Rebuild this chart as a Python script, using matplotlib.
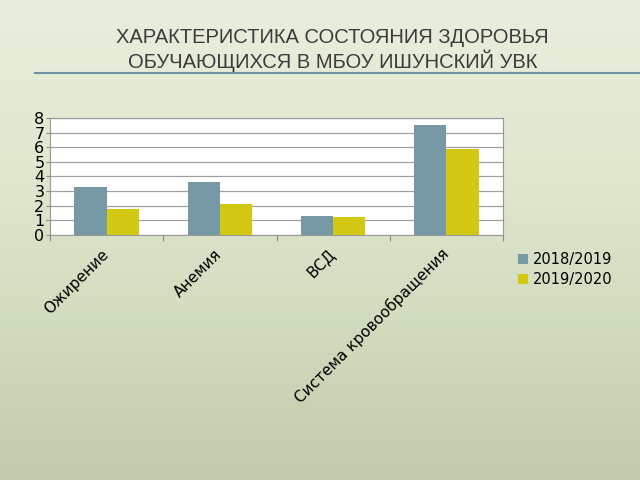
import numpy as np
import matplotlib
matplotlib.use('Agg')
import matplotlib.pyplot as plt
from matplotlib.lines import Line2D

# --- Data ---
categories = ["Ожирение", "Анемия", "ВСД", "Система кровообращения"]
series_names = ["2018/2019", "2019/2020"]
values_2018 = [3.3, 3.6, 1.3, 7.5]
values_2019 = [1.8, 2.1, 1.2, 5.9]
y_ticks = [0, 1, 2, 3, 4, 5, 6, 7, 8]

COLORS = ["#7799a6", "#d3c813"]
TITLE = "ХАРАКТЕРИСТИКА СОСТОЯНИЯ ЗДОРОВЬЯ\nОБУЧАЮЩИХСЯ В МБОУ ИШУНСКИЙ УВК"

plt.rcParams['font.family'] = ['DejaVu Sans']

fig = plt.figure(figsize=(6.4, 4.8), dpi=100)

# slide background: soft green gradient, light at the top
bg = fig.add_axes([0, 0, 1, 1], zorder=0)
grad = np.linspace(0, 1, 256).reshape(-1, 1)
cmap = matplotlib.colors.LinearSegmentedColormap.from_list(
    'slide', ['#e8eedc', '#e0e8d0', '#d2dcbe', '#c2cbab'])
bg.imshow(grad, aspect='auto', cmap=cmap, extent=[0, 1, 0, 1], origin='upper')
bg.set_xlim(0, 1)
bg.set_ylim(0, 1)
bg.axis('off')

# title and rule
fig.text(0.52, 0.896, TITLE, ha='center', va='center', fontsize=14.5,
         color='#3c3c3c', family='Liberation Sans', linespacing=1.15)
fig.add_artist(Line2D([35 / 640, 1.0], [1 - 73 / 480, 1 - 73 / 480],
                      color='#6f92a3', lw=1.5))

# chart
ax = fig.add_axes([50 / 640, 1 - 235 / 480, 453 / 640, 117 / 480], zorder=2)
ax.set_facecolor('white')
x = np.arange(len(categories))
w = 0.285
ax.bar(x - w / 2, values_2018, w, color=COLORS[0], label=series_names[0], zorder=3)
ax.bar(x + w / 2, values_2019, w, color=COLORS[1], label=series_names[1], zorder=3)

ax.set_xlim(-0.5, len(categories) - 0.5)
ax.set_ylim(0, 8)
ax.set_yticks(y_ticks)
ax.yaxis.grid(True, color='#a0a0a0', lw=0.9, zorder=1)
ax.tick_params(axis='y', labelsize=11.5, length=3, color='#888888', pad=1)

ax.set_xticks(np.arange(-0.5, len(categories), 1.0))
ax.set_xticklabels([])
ax.tick_params(axis='x', length=4, color='#888888')
ax.set_xticks(x, minor=True)
ax.set_xticklabels(categories, minor=True, rotation=45, ha='right', va='center',
                   rotation_mode='anchor', fontsize=11)
ax.tick_params(axis='x', which='minor', length=0, pad=12)

for s in ax.spines.values():
    s.set_color('#999999')
    s.set_linewidth(0.8)

handles, labels = ax.get_legend_handles_labels()
fig.legend(handles, labels, loc='upper left', bbox_to_anchor=(512 / 640, 1 - 246 / 480),
           frameon=False, fontsize=10.5, handlelength=0.7, handleheight=0.7,
           handletextpad=0.3, labelspacing=0.35, borderaxespad=0)

plt.savefig("out.png", dpi=100)
